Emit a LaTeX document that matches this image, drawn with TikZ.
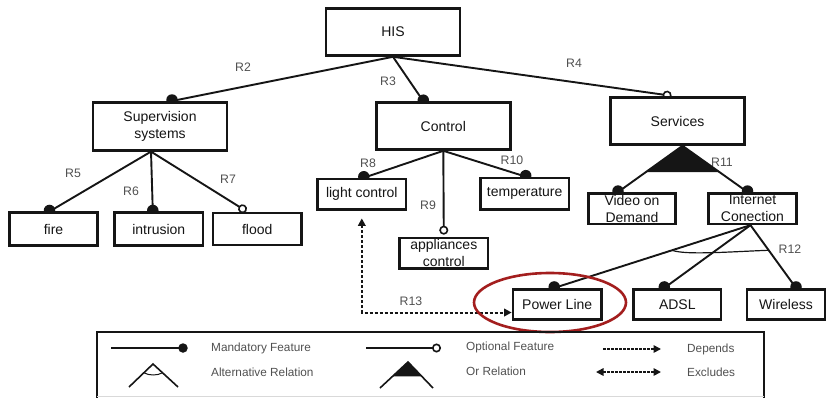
\documentclass[tikz,border=0pt]{standalone}
\usepackage{fontspec}
\setmainfont{Liberation Sans}
\usetikzlibrary{arrows.meta,calc}
\definecolor{ink}{HTML}{151515}
\definecolor{labelgray}{HTML}{505050}
\definecolor{ringred}{HTML}{A31E1E}
\pgfdeclarelayer{back}
\pgfsetlayers{back,main}

\begin{document}
\begin{tikzpicture}[x=1pt,y=-1pt,
  feat/.style={draw=ink,line width=2.6pt,fill=white,inner sep=0pt,align=center,
    font=\fontsize{14}{17}\selectfont,text=ink},
  bigbox/.style={feat,minimum width=134pt,minimum height=47pt},
  smallbox/.style={feat,minimum width=88.5pt,minimum height=30.5pt},
  rel/.style={draw=ink,line width=1.9pt},
  mdot/.style={circle,fill=ink,draw=none,inner sep=0pt,minimum size=11.5pt,yshift=1pt},
  optional/.style={rel,-{Circle[open,length=9pt,line width=1.6pt]}},
  dep/.style={draw=ink,line width=2pt,dash pattern=on 3pt off 2pt},
  tipd/.tip={Triangle[length=7.5pt,width=7.5pt]},
  rlabel/.style={text=labelgray,font=\fontsize{12.3}{13}\selectfont,inner sep=0pt},
  legtext/.style={text=labelgray,font=\fontsize{11.8}{13}\selectfont,inner sep=0pt,anchor=west},
]
\useasboundingbox (0,0) rectangle (829,397);

% ---- features ----
\node[bigbox] (his) at (393,32) {HIS};
\node[bigbox,minimum height=48pt] (sup) at (160,126.3) {Supervision\\systems};
\node[bigbox] (ctl) at (443.3,126) {Control};
\node[bigbox] (srv) at (677.5,121) {Services};

\node[smallbox,minimum height=32.5pt] (fire) at (53.5,229) {fire};
\node[smallbox,minimum height=32.5pt] (intr) at (158.8,229) {intrusion};
\node[smallbox,minimum height=32pt] (flood) at (257.2,229) {flood};

\node[smallbox] (light) at (361.8,194.3) {light control};
\node[smallbox,minimum height=31.5pt] (temp) at (524.7,193.7) {temperature};
\node[smallbox] (appl) at (443.8,253.2) {appliances\\control};

\node[smallbox,minimum width=87.5pt] (vod) at (632,208.6) {Video on\\Demand};
\node[smallbox] (inet) at (752.5,208.6) {Internet\\Conection};

\node[smallbox] (power) at (557.2,304.5) {Power Line};
\node[smallbox,minimum width=87.5pt] (adsl) at (677.3,304.5) {ADSL};
\node[smallbox,minimum width=78pt] (wless) at (786,304.5) {Wireless};

% ---- relations (mandatory ends carry a dot half hidden by the box) ----
\begin{pgfonlayer}{back}
  \draw[rel] (his.south) -- ([xshift=12pt]sup.north) node[mdot] {};
  \draw[rel] (his.south) -- ([xshift=-20pt]ctl.north) node[mdot] {};
  \draw[optional,shorten >=3pt] (his.south) -- ([xshift=-3pt]srv.north);

  \draw[rel] ([xshift=-9pt]sup.south) -- ([xshift=-4pt]fire.north) node[mdot] {};
  \draw[rel] ([xshift=-9pt]sup.south) -- ([xshift=-6pt]intr.north) node[mdot] {};
  \draw[optional,shorten >=1pt] ([xshift=-9pt]sup.south) -- ([xshift=-10pt]flood.north);

  \draw[rel] (ctl.south) -- ([xshift=2pt]light.north) node[mdot] {};
  \draw[optional,shorten >=2pt] (ctl.south) -- (appl.north);
  \draw[rel] (ctl.south) -- ([xshift=1pt]temp.north) node[mdot] {};

  % or-group below Services
  \coordinate (orapex) at ([xshift=5pt]srv.south);
  \coordinate (vodtop) at ([xshift=-14pt]vod.north);
  \coordinate (inettop) at ([xshift=-5pt]inet.north);
  \fill[ink] (orapex) -- ($(orapex)!0.57!(vodtop)$) -- ($(orapex)!0.57!(inettop)$) -- cycle;
  \draw[rel] (orapex) -- (vodtop) node[mdot] {};
  \draw[rel] (orapex) -- (inettop) node[mdot] {};

  % alternative group below Internet Conection
  \coordinate (altapex) at ([xshift=-2pt]inet.south);
  \coordinate (plk) at ([xshift=-3pt]power.north);
  \coordinate (adk) at ([xshift=-13pt]adsl.north);
  \coordinate (wlk) at ([xshift=10pt]wless.north);
  \draw[rel] (altapex) -- (plk) node[mdot] {};
  \draw[rel] (altapex) -- (adk) node[mdot] {};
  \draw[rel] (altapex) -- (wlk) node[mdot] {};
  \draw[ink,line width=1.2pt] ($(altapex)!0.4!(plk)$)
     .. controls +(14,5) and +(-40,1.5) .. ($(altapex)!0.4!(wlk)$);

  % dependency between light control and Power Line
  \draw[dep,{tipd}-{tipd}] ([yshift=-7.5pt]light.south) |- ([yshift=-8pt]power.west);
\end{pgfonlayer}

% ---- relation names ----
\node[rlabel] (r2) at (243,67) {R2};
\node[rlabel] (r3) at (388,81) {R3};
\node[rlabel] (r4) at (574,63) {R4};
\node[rlabel] (r5) at (73,173) {R5};
\node[rlabel] (r6) at (131,191) {R6};
\node[rlabel] (r7) at (228,179) {R7};
\node[rlabel] (r8) at (368,163.5) {R8};
\node[rlabel] (r9) at (428,205) {R9};
\node[rlabel] (r10) at (512,160) {R10};
\node[rlabel] (r11) at (722,162) {R11};
\node[rlabel] (r12) at (790,249) {R12};
\node[rlabel] (r13) at (411,301) {R13};

% ---- highlight ----
\draw[ringred,line width=2.6pt] (550,302.5) ellipse [x radius=76, y radius=29.5];

% ---- legend ----
\draw[ink,line width=2.4pt] (97,398) -- (97,332) -- (764,332) -- (764,398);
\draw[black!15,line width=1pt] (97,396.5) -- (764,396.5);

\coordinate (m1) at (111,348); \coordinate (m2) at (182,348);
\draw[rel] (m1) -- (m2) node[mdot,minimum size=9.5pt,yshift=-1pt,xshift=1pt] {};
\node[legtext] (lm) at (211,348) {Mandatory Feature};

\coordinate (o1) at (366,348); \coordinate (o2) at (441,348);
\draw[optional] (o1) -- (o2);
\node[legtext] (lo) at (466,347.5) {Optional Feature};

\coordinate (dp1) at (603,349); \coordinate (dp2) at (661,349);
\draw[dep,line width=1.6pt,dash pattern=on 2.5pt off 1.5pt,-{tipd}] (dp1) -- (dp2);
\node[legtext] (ld) at (687,349) {Depends};

\coordinate (ex1) at (596,372); \coordinate (ex2) at (661,372);
\draw[dep,line width=1.6pt,dash pattern=on 2.5pt off 1.5pt,{tipd}-{tipd}] (ex1) -- (ex2);
\node[legtext] (le) at (687,372) {Excludes};

% alternative relation symbol
\coordinate (aa) at (153,364); \coordinate (ab) at (129,387); \coordinate (ac) at (178,387);
\draw[rel,line width=1.6pt] (ab) -- (aa) -- (ac);
\draw[ink,line width=1pt] ($(aa)!0.38!(ab)$) .. controls +(5,3) and +(-5,3) .. ($(aa)!0.38!(ac)$);
\node[legtext] (la) at (211,372.5) {Alternative Relation};

% or relation symbol
\coordinate (ra) at (408,362); \coordinate (rb) at (380,388); \coordinate (rc) at (433,388);
\fill[ink] (ra) -- ($(ra)!0.55!(rb)$) -- ($(ra)!0.55!(rc)$) -- cycle;
\draw[rel,line width=1.6pt] (rb) -- (ra) -- (rc);
\node[legtext] (lr) at (466,371) {Or Relation};
\end{tikzpicture}
\end{document}
